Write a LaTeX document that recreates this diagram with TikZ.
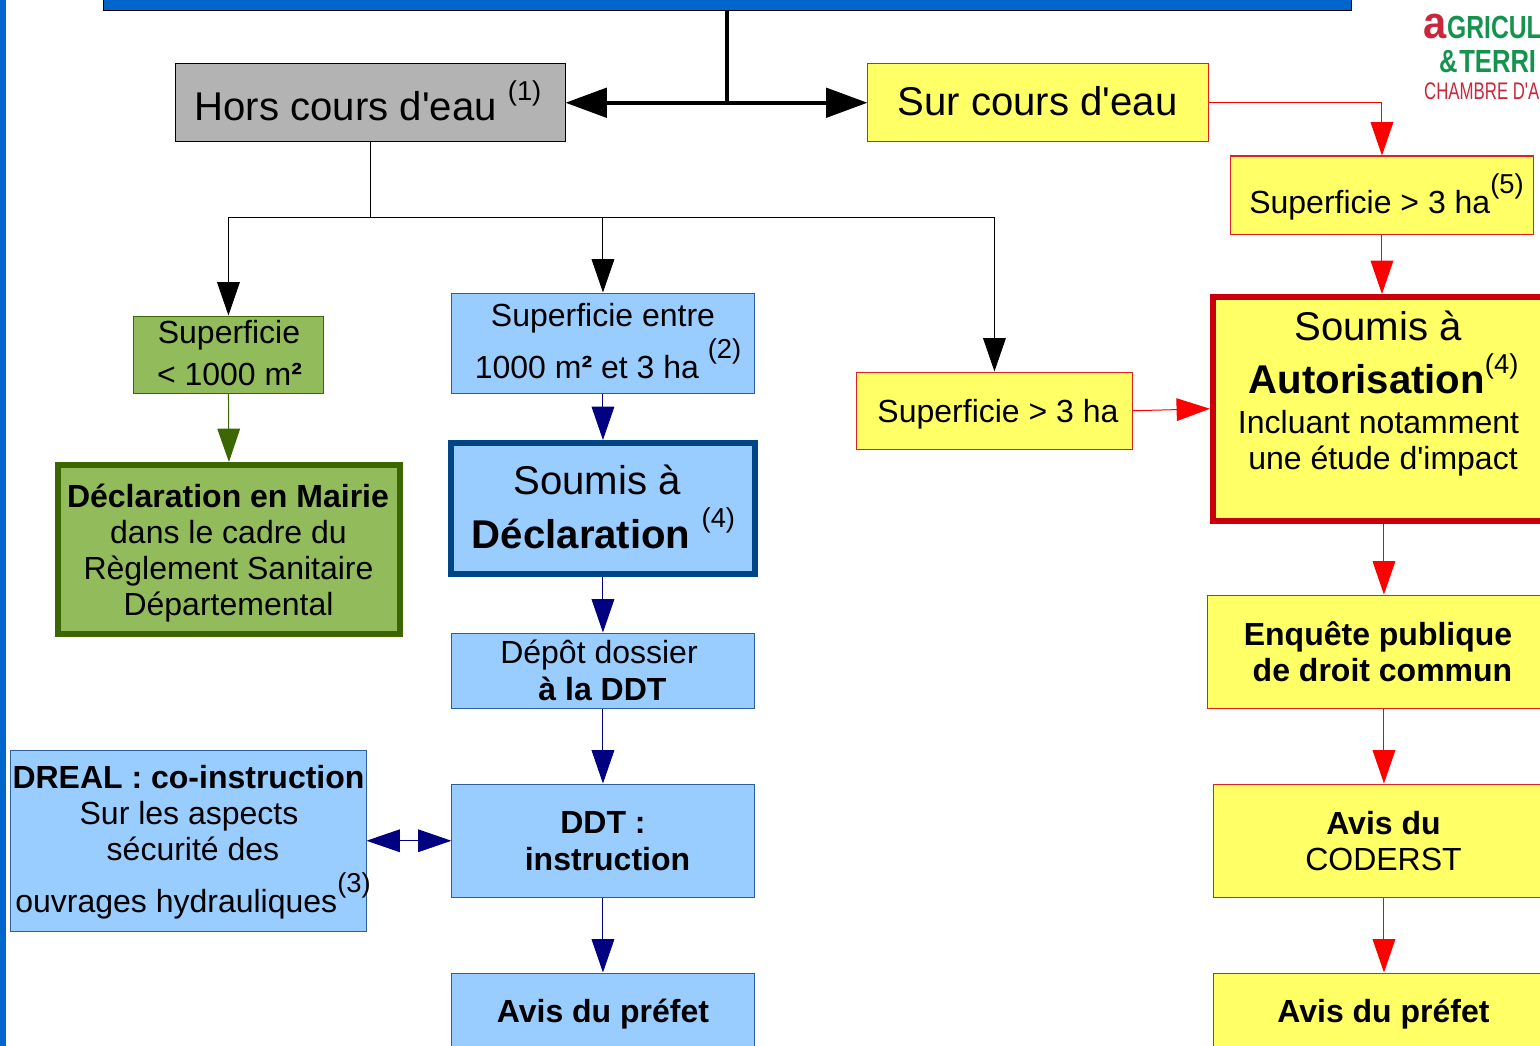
\documentclass[tikz,border=0pt]{standalone}
\usepackage{fontspec}
\newfontfamily\lib{Liberation Sans}
\usetikzlibrary{arrows.meta}
\definecolor{barblue}{HTML}{0066CC}
\definecolor{lightblue}{HTML}{99CCFF}
\definecolor{edgeblue}{HTML}{2A6099}
\definecolor{deepblue}{HTML}{004586}
\definecolor{navyline}{HTML}{000080}
\definecolor{yell}{HTML}{FFFF66}
\definecolor{grn}{HTML}{92BB5C}
\definecolor{dgrn}{HTML}{3B6600}
\definecolor{dred}{HTML}{C9000B}
\definecolor{edgered}{HTML}{E02020}
\definecolor{logored}{HTML}{C9283C}
\definecolor{logogreen}{HTML}{14934F}
\definecolor{gry}{HTML}{B3B3B3}
\newcommand\ftA{\lib\fontsize{30.1}{36}\selectfont}
\newcommand\ftB{\lib\fontsize{24}{27}\selectfont}
\newcommand\ftC{\lib\fontsize{20.5}{24}\selectfont}
\newcommand\lineat[4]{%
  \pgfmathsetmacro\ddx{(#2-\cx)*.75}\pgfmathsetmacro\ddy{(\cy-#3)*.75}%
  \raisebox{\ddy pt}[0pt][0pt]{\rlap{\kern\ddx pt\makebox[0pt][c]{#1#4}}}}
\newcommand\supr[2]{\raisebox{#1pt}[0pt][0pt]{\ftC\mdseries(#2)}}
\newcommand\sqr{{\bfseries ²}}
\newcommand\bx[7]{%
  \pgfmathsetmacro\cx{(#2-.1+#4)/2}\pgfmathsetmacro\cy{(#3+#5+.5)/2}%
  \pgfmathsetmacro\bw{(#4-#2+.1)*.75}\pgfmathsetmacro\bh{(#5-#3+.5)*.75}%
  \node[box,#6,minimum width=\bw pt,minimum height=\bh pt] (#1) at (\cx,\cy) {#7};}
\tikzset{
  box/.style={rectangle,draw,inner sep=0pt},
  yellowbox/.style={fill=yell,draw=edgered,line width=.75pt},
  bluebox/.style={fill=lightblue,draw=edgeblue,line width=.75pt},
  tip/.style={-{Triangle[length=25pt,width=17pt]}},
  blackconn/.style={black,line width=.75pt},
  redconn/.style={red,line width=.75pt,tip},
  navyconn/.style={navyline,line width=.75pt,tip},
  greenconn/.style={dgrn,line width=.75pt,tip},
  maintip/.style={line width=3pt,{Triangle[length=31pt,width=22pt]}-{Triangle[length=31pt,width=22pt]}},
}
\begin{document}
\begin{tikzpicture}[x=.75pt,y=-.75pt]
\useasboundingbox (0,0) rectangle (1540,1045);
\clip (0,0) rectangle (1540,1045);
\fill[white] (0,0) rectangle (1540,1045);
\bx{leftbar}{-5}{-5}{5.5}{1050}{fill=barblue,draw=none}{}
\bx{top}{104}{-20}{1351}{10}{fill=barblue,draw=black,line width=.75pt}{}
\bx{hors}{176}{64}{565}{141}{fill=gry,line width=.75pt}{\lineat{\ftA}{368}{121}{Hors cours d'eau \supr{15.5}{1}}}
\bx{sur}{868}{64}{1208}{141}{yellowbox}{\lineat{\ftA}{1037.5}{116}{Sur cours d'eau}}
\bx{supfive}{1231}{156}{1533}{234}{yellowbox}{\lineat{\ftB}{1386.5}{213.5}{Superficie > 3 ha\supr{15}{5}}}
\bx{green}{134}{316}{323}{393}{fill=grn,draw=dgrn,line width=.75pt}{\lineat{\ftB}{229}{343}{Superficie}\lineat{\ftB}{229.5}{385}{< 1000 m\sqr}}
\bx{bluetwo}{452}{293}{754}{393}{bluebox}{\lineat{\ftB}{603}{326}{Superficie entre}\lineat{\ftB}{608}{378}{1000 m\sqr{} et 3 ha \supr{15}{2}}}
\bx{decl}{451}{443}{755}{573}{fill=lightblue,draw=deepblue,line width=4.5pt}{\lineat{\ftA}{597}{494}{Soumis à}\lineat{\ftA}{603.5}{548.5}{\bfseries Déclaration \supr{16}{4}}}
\bx{mairie}{58}{465}{400}{633}{fill=grn,draw=dgrn,line width=4.5pt}{\lineat{\ftB}{228}{507}{\bfseries Déclaration en Mairie}\lineat{\ftB}{228.5}{543}{dans le cadre du}\lineat{\ftB}{228.5}{579}{Règlement Sanitaire}\lineat{\ftB}{228.5}{615}{Départemental}}
\bx{supthree}{857}{372}{1132}{449}{yellowbox}{\lineat{\ftB}{998}{422}{Superficie > 3 ha}}
\bx{autor}{1213}{297}{1551}{520}{fill=yell,draw=dred,line width=4.5pt}{\lineat{\ftA}{1378}{340}{Soumis à}\lineat{\ftA}{1383.5}{393}{\bfseries Autorisation\supr{15}{4}}\lineat{\ftB}{1378.5}{433}{Incluant notamment}\lineat{\ftB}{1383}{469}{une étude d'impact}}
\bx{enq}{1208}{595}{1560}{708}{yellowbox}{\lineat{\ftB}{1378}{645}{\bfseries Enquête publique}\lineat{\ftB}{1382.5}{681.5}{\bfseries de droit commun}}
\bx{depot}{452}{633}{754}{708}{bluebox}{\lineat{\ftB}{599}{663}{Dépôt dossier}\lineat{\ftB}{602.5}{700}{\bfseries à la DDT}}
\bx{ddt}{452}{784}{754}{897}{bluebox}{\lineat{\ftB}{603}{833}{\bfseries DDT :}\lineat{\ftB}{607.5}{870}{\bfseries instruction}}
\bx{dreal}{11}{750}{366}{931}{bluebox}{\lineat{\ftB}{188.5}{788}{\bfseries DREAL : co-instruction}\lineat{\ftB}{189}{824}{Sur les aspects}\lineat{\ftB}{193}{860}{sécurité des}\lineat{\ftB}{193}{912}{ouvrages hydrauliques\supr{14.5}{3}}}
\bx{avisl}{452}{973}{754}{1060}{bluebox}{\lineat{\ftB}{603}{1022}{\bfseries Avis du préfet}}
\bx{coderst}{1214}{784}{1554}{897}{yellowbox}{\lineat{\ftB}{1383.5}{834}{\bfseries Avis du}\lineat{\ftB}{1383.5}{870}{CODERST}}
\bx{avisr}{1214}{973}{1554}{1060}{yellowbox}{\lineat{\ftB}{1383.5}{1022}{\bfseries Avis du préfet}}
% logo
\node[anchor=base west,inner sep=0pt,text=logored,xscale=.92,transform shape] (logoa) at (1423,39) {\lib\fontsize{34}{34}\selectfont\bfseries a};
\node[anchor=base west,inner sep=0pt,text=logogreen,xscale=.77,transform shape] (logob) at (1447,39) {\lib\fontsize{24}{24}\selectfont\bfseries GRICUL};
\node[anchor=base west,inner sep=0pt,text=logogreen,xscale=.8,transform shape] (logoc) at (1439,73) {\lib\fontsize{24}{24}\selectfont\bfseries\&\kern1.5pt TERRI};
\node[anchor=base west,inner sep=0pt,text=logored,xscale=.7,transform shape] (logod) at (1424,100) {\lib\fontsize{18}{18}\selectfont CHAMBRE D'A};
% connectors
\coordinate (jmain) at (top.south |- hors.east);
\coordinate (jtree) at (hors.south |- 0,217);
\draw[line width=3pt] (top.south) -- (jmain);
\draw[maintip] (hors.east) -- (sur.west);
\draw[blackconn] (hors.south) -- (jtree);
\draw[blackconn,tip] (jtree) -| (green.north);
\draw[blackconn,tip] (jtree) -| (bluetwo.north);
\draw[blackconn,tip] (jtree) -| (supthree.north);
\draw[redconn] (sur.east) -| (supfive.north);
\draw[redconn] (supfive.south) -- (autor.north);
\draw[redconn] (supthree.east) -- (autor.west);
\draw[redconn] (autor.south -| enq.north) -- (enq.north);
\draw[redconn] (enq.south) -- (coderst.north);
\draw[redconn] (coderst.south) -- (avisr.north);
\draw[greenconn] (green.south) -- (mairie.north);
\draw[navyconn] (bluetwo.south) -- (decl.north);
\draw[navyconn] (decl.south) -- (depot.north);
\draw[navyconn] (depot.south) -- (ddt.north);
\draw[navyconn] (ddt.south) -- (avisl.north);
\draw[navyline,line width=.75pt,{Triangle[length=25pt,width=17pt]}-{Triangle[length=25pt,width=17pt]}] (dreal.east) -- (ddt.west);
\end{tikzpicture}
\end{document}
